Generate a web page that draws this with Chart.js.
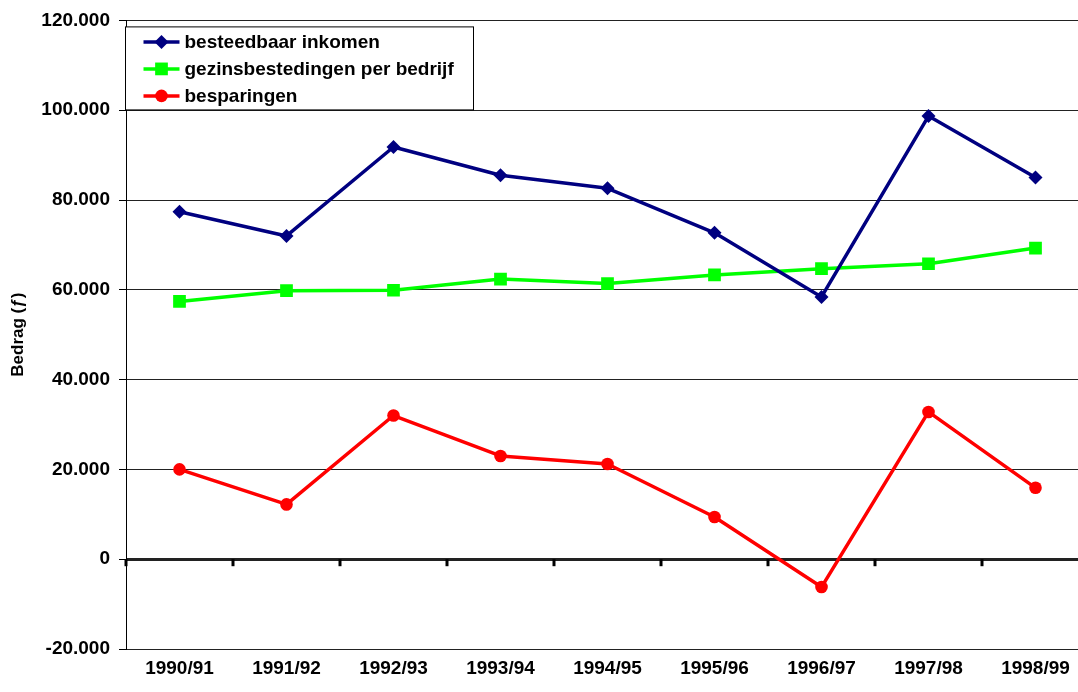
<!DOCTYPE html>
<html>
<head>
<meta charset="utf-8">
<script src="https://cdn.jsdelivr.net/npm/chart.js@4/dist/chart.umd.min.js"></script>
<style>
  html, body { margin: 0; padding: 0; background: #fff; overflow: hidden; width: 1078px; height: 692px; }
  #wrap { position: relative; width: 1130px; height: 692px; }
</style>
</head>
<body>
<div id="wrap"><canvas id="c" width="1130" height="692"></canvas></div>
<script>
const categories = ['1990/91','1991/92','1992/93','1993/94','1994/95','1995/96','1996/97','1997/98','1998/99'];
const besteedbaarInkomen = [77400, 72000, 91800, 85500, 82600, 72700, 58400, 98700, 85000];
const gezinsbestedingen = [57400, 59800, 59900, 62400, 61400, 63300, 64700, 65800, 69300];
const besparingen = [20000, 12200, 32000, 23000, 21200, 9400, -6200, 32800, 15900];
const seriesNames = ['besteedbaar inkomen', 'gezinsbestedingen per bedrijf', 'besparingen'];
const yTicks = [-20000, 0, 20000, 40000, 60000, 80000, 100000, 120000];
const yTitle = 'Bedrag (\u0192)';

const FONT = '"Liberation Sans", Arial, sans-serif';

function fmt(v) {
  const neg = v < 0;
  let s = String(Math.abs(Math.round(v)));
  s = s.replace(/\B(?=(\d{3})+(?!\d))/g, '.');
  return (neg ? '-' : '') + s;
}

function drawMarker(ctx, style, x, y, r, color) {
  ctx.save();
  ctx.fillStyle = color;
  ctx.beginPath();
  if (style === 'rectRot') {
    ctx.moveTo(x, y - r); ctx.lineTo(x + r, y); ctx.lineTo(x, y + r); ctx.lineTo(x - r, y); ctx.closePath();
  } else if (style === 'rect') {
    const s = r * Math.SQRT1_2;
    ctx.rect(x - s, y - s, 2 * s, 2 * s);
  } else {
    ctx.arc(x, y, r, 0, Math.PI * 2);
  }
  ctx.fill();
  ctx.restore();
}

const zeroAxisPlugin = {
  id: 'zeroAxis',
  beforeDatasetsDraw(chart) {
    const ctx = chart.ctx, xs = chart.scales.x, ys = chart.scales.y;
    const y0 = ys.getPixelForValue(0);
    const w = xs.getPixelForValue(1) - xs.getPixelForValue(0);
    ctx.save();
    ctx.strokeStyle = '#000';
    ctx.lineWidth = 3;
    for (let i = 0; i <= categories.length; i++) {
      const x = Math.round(xs.getPixelForValue(0) - w / 2 + i * w);
      ctx.beginPath();
      ctx.moveTo(x, y0);
      ctx.lineTo(x, y0 + 7);
      ctx.stroke();
    }
    ctx.restore();
  }
};

const legendPlugin = {
  id: 'boxLegend',
  afterDraw(chart) {
    const ctx = chart.ctx, a = chart.chartArea;
    const bx = a.left - 0.5, by = a.top + 6.5, bw = 348, bh = 83;
    ctx.save();
    ctx.fillStyle = '#fff';
    ctx.fillRect(bx, by, bw, bh);
    ctx.strokeStyle = '#000';
    ctx.lineWidth = 1;
    ctx.strokeRect(bx, by, bw, bh);
    ctx.font = 'bold 19px ' + FONT;
    ctx.textBaseline = 'middle';
    ctx.textAlign = 'left';
    chart.data.datasets.forEach((ds, i) => {
      const cy = by + 15 + i * 27;
      ctx.strokeStyle = ds.borderColor;
      ctx.lineWidth = ds.borderWidth;
      ctx.beginPath();
      ctx.moveTo(bx + 18, cy);
      ctx.lineTo(bx + 54, cy);
      ctx.stroke();
      drawMarker(ctx, ds.pointStyle, bx + 36, cy, ds.pointRadius, ds.borderColor);
      ctx.fillStyle = '#000';
      ctx.fillText(ds.label, bx + 59, cy + 1);
    });
    ctx.restore();
  }
};

new Chart(document.getElementById('c'), {
  type: 'line',
  data: {
    labels: categories,
    datasets: [
      { label: seriesNames[0], data: besteedbaarInkomen, borderColor: '#000080', backgroundColor: '#000080',
        borderWidth: 3.5, pointStyle: 'rectRot', pointRadius: 7, pointBorderWidth: 0, tension: 0 },
      { label: seriesNames[1], data: gezinsbestedingen, borderColor: '#00FF00', backgroundColor: '#00FF00',
        borderWidth: 3.5, pointStyle: 'rect', pointRadius: 9, pointBorderWidth: 0, tension: 0 },
      { label: seriesNames[2], data: besparingen, borderColor: '#FF0000', backgroundColor: '#FF0000',
        borderWidth: 3.5, pointStyle: 'circle', pointRadius: 6.3, pointBorderWidth: 0, tension: 0 }
    ]
  },
  options: {
    responsive: false,
    animation: false,
    devicePixelRatio: 1,
    layout: { padding: { top: 19, right: 41, bottom: 0, left: 0 } },
    plugins: { legend: { display: false }, tooltip: { enabled: false } },
    elements: { line: { borderCapStyle: 'round', borderJoinStyle: 'round' } },
    scales: {
      x: {
        type: 'category',
        offset: true,
        grid: { display: false, drawTicks: false },
        border: { display: false },
        ticks: { color: '#000', font: { family: FONT, size: 19, weight: 'bold' }, padding: 8, maxRotation: 0, autoSkip: false },
        afterFit(scale) { scale.height = 43; }
      },
      y: {
        min: -20000, max: 120000,
        afterBuildTicks(scale) { scale.ticks = yTicks.map(v => ({ value: v })); },
        grid: {
          color: '#222',
          lineWidth: (c) => (c.tick && c.tick.value === 0 ? 3 : 1),
          tickWidth: 1,
          tickColor: '#000',
          tickLength: 7,
          drawTicks: true
        },
        border: { display: true, color: '#000', width: 1 },
        ticks: { color: '#000', font: { family: FONT, size: 19, weight: 'bold' }, padding: 9, callback: (v) => fmt(v) },
        title: { display: true, text: yTitle, color: '#000', font: { family: FONT, size: 17, weight: 'bold' }, padding: { top: 8, bottom: 0 } },
        afterFit(scale) { scale.width = 126; }
      }
    }
  },
  plugins: [zeroAxisPlugin, legendPlugin]
});
</script>
</body>
</html>
